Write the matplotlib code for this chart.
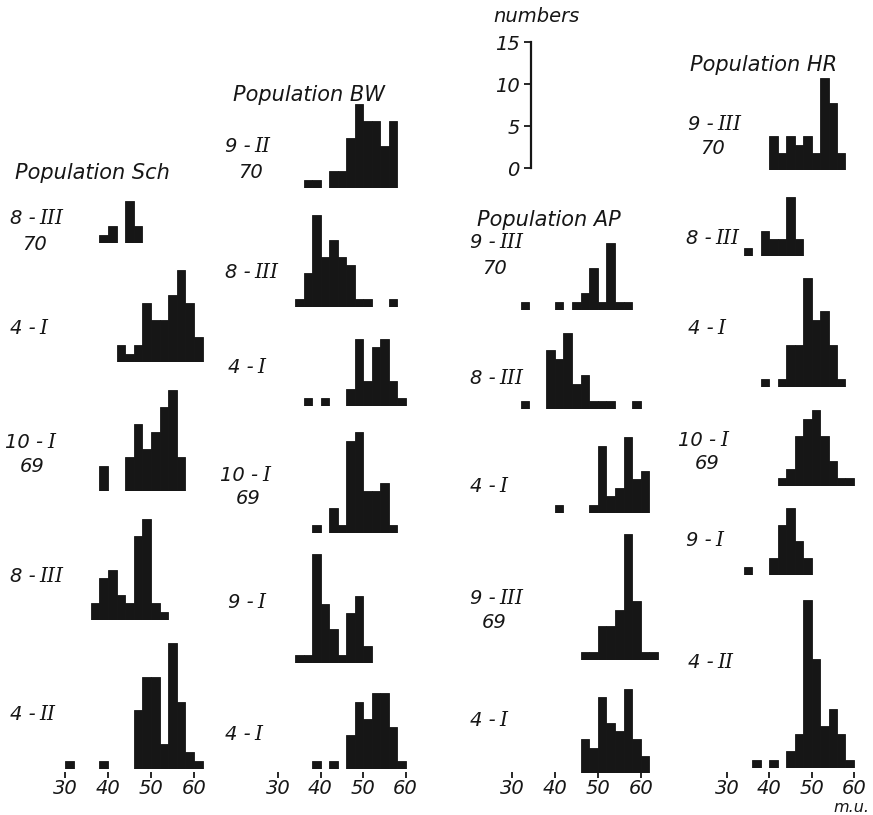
import matplotlib
matplotlib.use('Agg')
import matplotlib.pyplot as plt
import numpy as np

W, H = 873, 815
PX_PER_COUNT = 8.4          # one specimen in the histograms
FONT = 'DejaVu Sans'

# left edges of the 2 m.u. classes: 30, 32, ..., 62
BINS = np.arange(30, 64, 2)
#            30 32 34 36 38 40 42 44 46 48 50 52 54 56 58 60 62

# -- Population Sch
sch_8III_70 = [0, 0, 0, 0, 1, 2, 0, 5, 2, 0, 0, 0, 0, 0, 0, 0, 0]
sch_4I      = [0, 0, 0, 0, 0, 0, 2, 1, 2, 7, 5, 5, 8, 11, 7, 3, 0]
sch_10I_69  = [0, 0, 0, 0, 3, 0, 0, 4, 8, 5, 7, 10, 12, 4, 0, 0, 0]
sch_8III    = [0, 0, 0, 2, 5, 6, 3, 2, 10, 12, 2, 1, 0, 0, 0, 0, 0]
sch_4II     = [1, 0, 0, 0, 1, 0, 0, 0, 7, 11, 11, 3, 15, 8, 2, 1, 0]

# -- Population BW
bw_9II_70   = [0, 0, 0, 1, 1, 0, 2, 2, 6, 10, 8, 8, 5, 8, 0, 0, 0]
bw_8III     = [0, 0, 1, 4, 11, 6, 8, 6, 5, 1, 1, 0, 0, 1, 0, 0, 0]
bw_4I_a     = [0, 0, 0, 1, 0, 1, 0, 0, 2, 8, 3, 7, 8, 3, 1, 0, 0]
bw_10I_69   = [0, 0, 0, 0, 1, 0, 3, 1, 11, 12, 5, 5, 6, 1, 0, 0, 0]
bw_9I       = [0, 0, 1, 1, 13, 7, 4, 1, 6, 8, 2, 0, 0, 0, 0, 0, 0]
bw_4I_b     = [0, 0, 0, 0, 1, 0, 1, 0, 4, 8, 6, 9, 9, 5, 1, 0, 0]

# -- Population AP
ap_9III_70  = [0, 1, 0, 0, 0, 1, 0, 1, 2, 5, 1, 8, 1, 1, 0, 0, 0]
ap_8III     = [0, 1, 0, 0, 7, 6, 9, 3, 4, 1, 1, 1, 0, 0, 1, 0, 0]
ap_4I_a     = [0, 0, 0, 0, 0, 1, 0, 0, 0, 1, 8, 2, 3, 9, 4, 5, 0]
ap_9III_69  = [0, 0, 0, 0, 0, 0, 0, 0, 1, 1, 4, 4, 6, 15, 7, 1, 1]
ap_4I_b     = [0, 0, 0, 0, 0, 0, 0, 0, 4, 3, 9, 6, 5, 10, 4, 2, 0]

# -- Population HR
hr_9III_70  = [0, 0, 0, 0, 0, 4, 2, 4, 3, 4, 2, 11, 8, 2, 0, 0, 0]
hr_8III     = [0, 0, 1, 0, 3, 2, 2, 7, 2, 0, 0, 0, 0, 0, 0, 0, 0]
hr_4I       = [0, 0, 0, 0, 1, 0, 1, 5, 5, 13, 8, 9, 5, 1, 0, 0, 0]
hr_10I_69   = [0, 0, 0, 0, 0, 0, 1, 2, 6, 8, 9, 6, 3, 1, 1, 0, 0]
hr_9I       = [0, 0, 1, 0, 0, 2, 6, 8, 4, 2, 0, 0, 0, 0, 0, 0, 0]
hr_4II      = [0, 0, 0, 1, 0, 1, 0, 2, 4, 20, 13, 5, 7, 4, 1, 0, 0]

SCALE_TICKS = [0, 5, 10, 15]
MU_TICKS = [30, 40, 50, 60]

# layout: (title, title xy, px of 30 m.u., px per m.u., samples)
# sample: (counts, baseline px, (day, month), label xy, year, year xy)
COLUMNS = [
    ('Population Sch', (15, 173), 65, 4.3, [
        (sch_8III_70, 243, ('8', 'III'), (10, 218), '70', (22, 244)),
        (sch_4I,      362, ('4', 'I'),   (10, 329), None, None),
        (sch_10I_69,  491, ('10', 'I'),  (5, 443),  '69', (20, 467)),
        (sch_8III,    620, ('8', 'III'), (10, 577), None, None),
        (sch_4II,     769, ('4', 'II'),  (10, 715), None, None),
    ]),
    ('Population BW', (233, 95), 278, 4.25, [
        (bw_9II_70, 188, ('9', 'II'),  (225, 146), '70', (238, 172)),
        (bw_8III,   307, ('8', 'III'), (225, 272), None, None),
        (bw_4I_a,   406, ('4', 'I'),   (228, 367), None, None),
        (bw_10I_69, 533, ('10', 'I'),  (220, 476), '69', (236, 499)),
        (bw_9I,     663, ('9', 'I'),   (228, 603), None, None),
        (bw_4I_b,   769, ('4', 'I'),   (225, 735), None, None),
    ]),
    ('Population AP', (477, 220), 512, 4.29, [
        (ap_9III_70, 310, ('9', 'III'), (470, 243), '70', (482, 268)),
        (ap_8III,    409, ('8', 'III'), (470, 378), None, None),
        (ap_4I_a,    513, ('4', 'I'),   (470, 486), None, None),
        (ap_9III_69, 660, ('9', 'III'), (470, 598), '69', (482, 622)),
        (ap_4I_b,    773, ('4', 'I'),   (470, 720), None, None),
    ]),
    ('Population HR', (690, 65), 727, 4.23, [
        (hr_9III_70, 170, ('9', 'III'), (688, 124), '70', (700, 148)),
        (hr_8III,    256, ('8', 'III'), (686, 238), None, None),
        (hr_4I,      387, ('4', 'I'),   (688, 328), None, None),
        (hr_10I_69,  486, ('10', 'I'),  (678, 440), '69', (695, 463)),
        (hr_9I,      575, ('9', 'I'),   (686, 540), None, None),
        (hr_4II,     768, ('4', 'II'),  (688, 663), None, None),
    ]),
]

INK = '#161616'

fig = plt.figure(figsize=(W / 100, H / 100), dpi=100)
fig.patch.set_facecolor('white')
ov = fig.add_axes([0, 0, 1, 1])
ov.axis('off')
ov.patch.set_alpha(0)


def fx(px):
    return px / W


def fy(py):
    return 1 - py / H


def label(xy, s, size=14):
    return ov.text(fx(xy[0]), fy(xy[1]), s, ha='left', va='center',
                   fontsize=size, style='italic', family=FONT, color=INK,
                   transform=fig.transFigure)


def date_label(xy, day, month):
    t = label(xy, day + ' -')
    # roman month in a serif face so the strokes get their bars
    ov.annotate(month, xy=(1, 0.5), xycoords=t, xytext=(3, 0),
                textcoords='offset points', ha='left', va='center',
                fontsize=14.5, style='italic', family='DejaVu Serif',
                color=INK)


X_LO, X_HI, Y_TOP = 28, 66, 22

for title, txy, x30, ppu, samples in COLUMNS:
    label(txy, title, 15)
    for counts, base, (day, month), nxy, year, yxy in samples:
        ax = fig.add_axes([fx(x30 - (30 - X_LO) * ppu), fy(base),
                           (X_HI - X_LO) * ppu / W, Y_TOP * PX_PER_COUNT / H])
        ax.bar(BINS, counts, width=2, align='edge', color=INK,
               edgecolor=INK, linewidth=0.6)
        ax.set_xlim(X_LO, X_HI)
        ax.set_ylim(0, Y_TOP)
        ax.axis('off')
        ax.patch.set_alpha(0)
        date_label(nxy, day, month)
        if year:
            label(yxy, year)

    # m.u. scale under each column
    sx = fig.add_axes([fx(x30 - (30 - X_LO) * ppu), fy(772),
                       (X_HI - X_LO) * ppu / W, 0.0001])
    sx.set_xlim(X_LO, X_HI)
    sx.set_xticks(MU_TICKS)
    sx.set_xticklabels([str(t) for t in MU_TICKS], fontsize=14,
                       style='italic', family=FONT, color=INK)
    sx.tick_params(axis='x', length=4, width=1.3, pad=1, colors=INK)
    sx.set_yticks([])
    for s in sx.spines.values():
        s.set_visible(False)
    sx.patch.set_alpha(0)

ov.text(fx(869), fy(815), 'm.u.', ha='right', va='bottom', fontsize=11.5,
        style='italic', family=FONT, color=INK, transform=fig.transFigure)

# "numbers" scale bar
nb = fig.add_axes([fx(531), fy(168), 0.0001, 15 * PX_PER_COUNT / H])
nb.set_ylim(0, 15)
nb.set_yticks(SCALE_TICKS)
nb.set_yticklabels([str(t) for t in SCALE_TICKS], fontsize=14,
                   style='italic', family=FONT, color=INK)
nb.tick_params(axis='y', length=5, width=1.3, pad=3, colors=INK)
nb.set_xticks([])
for k, s in nb.spines.items():
    s.set_visible(k == 'left')
nb.spines['left'].set_linewidth(1.6)
nb.spines['left'].set_color(INK)
nb.patch.set_alpha(0)
label((493, 17), 'numbers', 14)

fig.savefig('out.png', dpi=100, facecolor='white')
